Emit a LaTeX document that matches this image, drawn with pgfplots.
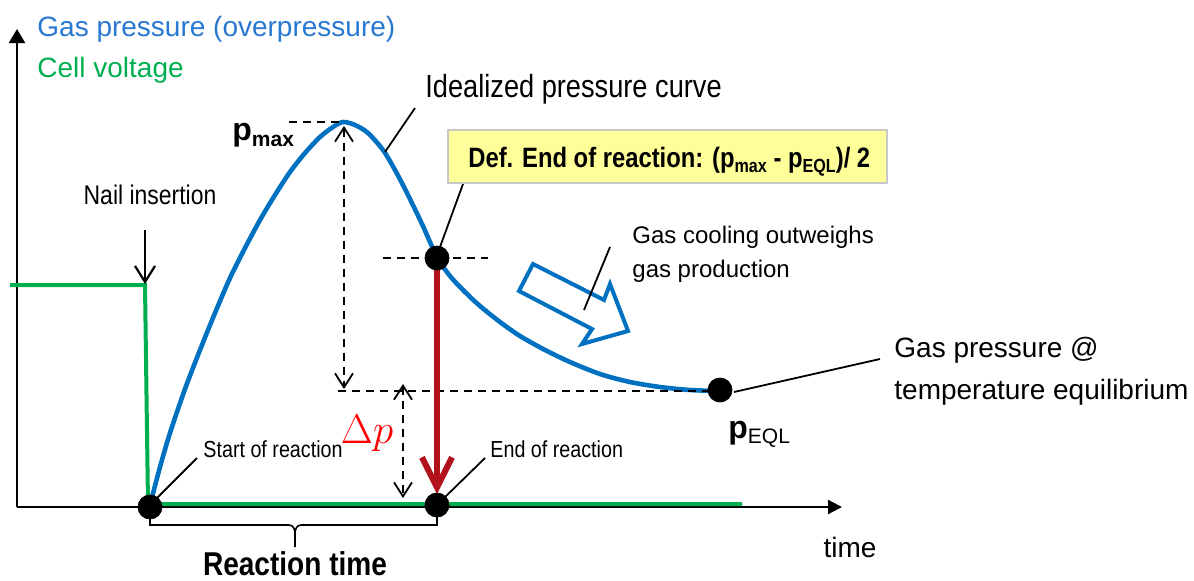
\documentclass[border=0pt]{standalone}
\usepackage{fontspec}
\setmainfont{Liberation Sans}
\newfontfamily\narrow[FakeStretch=0.85]{Liberation Sans}
\usepackage{pgfplots}
\pgfplotsset{compat=1.18}
\usetikzlibrary{arrows.meta}
\definecolor{pblue}{RGB}{0,112,192}
\definecolor{tblue}{RGB}{40,120,210}
\definecolor{pgreen}{RGB}{0,176,80}
\definecolor{pred}{RGB}{178,18,28}
\definecolor{dpred}{RGB}{255,0,0}
\definecolor{boxy}{RGB}{255,255,153}
\definecolor{boxb}{RGB}{200,200,200}
\begin{document}
\begin{tikzpicture}
\begin{axis}[width=597pt,height=290pt,scale only axis,
  xmin=0,xmax=1194,ymin=0,ymax=580,y dir=reverse,hide axis,clip=false]
\coordinate (TL) at (axis cs:0,0);
\coordinate (BR) at (axis cs:1194,580);
% axes
\draw[line width=1.1pt,-{Triangle[length=7pt,width=8pt]}] (axis cs:17,507) -- (axis cs:17,29);
\draw[line width=1.1pt,-{Triangle[length=7pt,width=7pt]}] (axis cs:17,507) -- (axis cs:842,507);
% cell voltage
\addplot[pgreen,line width=2pt] coordinates {(10,285) (145,285) (148,504) (742,504)};
% pressure curve
\addplot[pblue,line width=2.3pt,smooth] coordinates {
(150,505) (160,467) (170,433) (185,389) (200,350) (215,313) (230,278) (245,248)
(260,220) (275,195) (290,172) (305,153) (320,137) (333,127) (343,122) (355,125)
(368,133) (383,150) (395,170) (407,193) (422,224) (437,257) (450,276) (465,292)
(480,306) (500,322) (520,336) (545,350) (570,362) (600,374) (630,382) (660,387)
(690,390) (720,391)};
% dashed guide lines
\draw[line width=0.9pt,dash pattern=on 4pt off 3pt] (axis cs:289,122) -- (axis cs:340,122);
\draw[line width=0.9pt,dash pattern=on 4pt off 3pt] (axis cs:338,391) -- (axis cs:718,391);
\draw[line width=0.9pt,dash pattern=on 4pt off 3pt] (axis cs:383,258) -- (axis cs:488,258);
\draw[line width=0.9pt,dash pattern=on 4pt off 3pt,{Straight Barb[length=7pt,width=9pt]}-{Straight Barb[length=7pt,width=9pt]}] (axis cs:344,126) -- (axis cs:344,389);
\draw[line width=0.9pt,dash pattern=on 4pt off 3pt,{Straight Barb[length=7pt,width=9pt]}-{Straight Barb[length=7pt,width=9pt]}] (axis cs:403,384) -- (axis cs:403,498);
% nail insertion arrow
\draw[line width=1.1pt,-{Straight Barb[length=8pt,width=10pt]}] (axis cs:145,230) -- (axis cs:145,284);
% red arrow
\draw[pred,line width=3pt,-{Straight Barb[length=15pt,width=15pt]}] (axis cs:437,262) -- (axis cs:437,494);
% hollow arrow
\draw[pblue,line width=2pt,line join=miter] (axis cs:533,264) -- (axis cs:604,300) -- (axis cs:610,284)
  -- (axis cs:628,331) -- (axis cs:582,344) -- (axis cs:592,329) -- (axis cs:519,291) -- cycle;
% connector lines
\draw[line width=0.9pt] (axis cs:385,152) -- (axis cs:415,108);
\draw[line width=0.9pt] (axis cs:440,247) -- (axis cs:463,184);
\draw[line width=0.9pt] (axis cs:584,310) -- (axis cs:610,247);
\draw[line width=0.9pt] (axis cs:734,392) -- (axis cs:880,359);
\draw[line width=0.9pt] (axis cs:152,503) -- (axis cs:197,458);
\draw[line width=0.9pt] (axis cs:441,501) -- (axis cs:485,458);
% brace
\draw[line width=0.8pt] (axis cs:150,515) |- (axis cs:289,525) to[out=0,in=90] (axis cs:295,533) -- (axis cs:295,547);
\draw[line width=0.8pt] (axis cs:437,515) |- (axis cs:301,525) to[out=180,in=90] (axis cs:295,533);
% dots
\addplot[only marks,mark=*,mark size=6pt,black] coordinates {(150,507) (437,505) (437,258) (720,390)};
% yellow box
\draw[boxb,fill=boxy,line width=0.8pt] (axis cs:448,130) rectangle (axis cs:887,183);
\node[anchor=base west,inner sep=0pt] at (axis cs:468,167)
  {\narrow\bfseries\fontsize{14}{16}\selectfont Def. End of reaction: (p\raisebox{-0.35ex}{\fontsize{9.5}{10}\selectfont max} - p\raisebox{-0.35ex}{\fontsize{9.5}{10}\selectfont EQL})/ 2};
% texts
\node[anchor=base west,inner sep=0pt,text=tblue] at (axis cs:37,36) {\fontsize{14}{16}\selectfont Gas pressure (overpressure)};
\node[anchor=base west,inner sep=0pt,text=pgreen] at (axis cs:37,77) {\fontsize{14}{16}\selectfont Cell voltage};
\node[anchor=base,inner sep=0pt] at (axis cs:150,204) {\narrow\fontsize{13.5}{16}\selectfont Nail insertion};
\node[anchor=base west,inner sep=0pt] at (axis cs:425,97) {\narrow\fontsize{16}{18}\selectfont Idealized pressure curve};
\node[anchor=base west,inner sep=0pt] at (axis cs:203,457) {\narrow\fontsize{11.6}{14}\selectfont Start of reaction};
\node[anchor=base west,inner sep=0pt] at (axis cs:490,457) {\narrow\fontsize{11.6}{14}\selectfont End of reaction};
\node[anchor=base,inner sep=0pt] at (axis cs:295,575) {\narrow\bfseries\fontsize{16.5}{18}\selectfont Reaction time};
\node[anchor=base west,inner sep=0pt,align=left,font=\fontsize{12}{17}\selectfont] at (axis cs:632,277) {Gas cooling outweighs\\gas production};
\node[anchor=base west,inner sep=0pt,align=left,font=\fontsize{14}{21}\selectfont] at (axis cs:894,399) {Gas pressure @\\temperature equilibrium};
\node[anchor=base,inner sep=0pt] at (axis cs:850,557) {\fontsize{14}{16}\selectfont time};
\node[anchor=base,inner sep=0pt,text=dpred] at (axis cs:367,443) {\fontsize{20.5}{22}\selectfont$\Delta p$};
\node[anchor=base west,inner sep=0pt] at (axis cs:232,140)
  {\bfseries\fontsize{16}{18}\selectfont p\raisebox{-0.4ex}{\fontsize{10.5}{12}\selectfont max}};
\node[anchor=base west,inner sep=0pt] at (axis cs:728,438)
  {\bfseries\fontsize{16}{18}\selectfont p\raisebox{-0.3ex}{\mdseries\fontsize{10.5}{12}\selectfont EQL}};
\end{axis}
\pgfresetboundingbox
\useasboundingbox (TL) rectangle (BR);
\end{tikzpicture}
\end{document}
